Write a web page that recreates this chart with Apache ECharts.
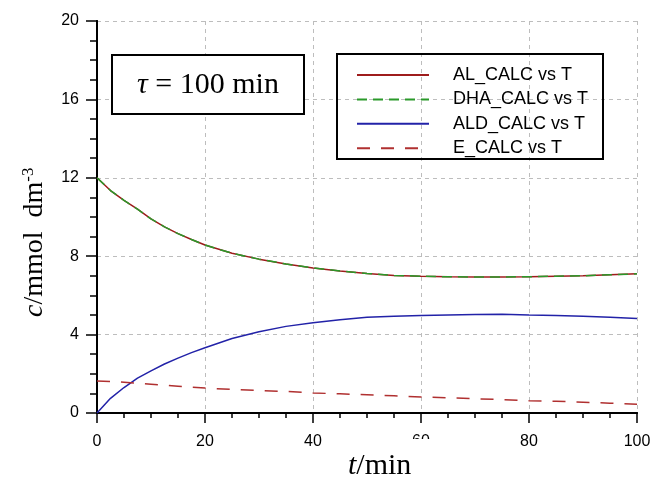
<!DOCTYPE html>
<html>
<head>
<meta charset="utf-8">
<script src="https://cdn.jsdelivr.net/npm/echarts@6/dist/echarts.min.js"></script>
<style>
  html, body { margin: 0; padding: 0; background: #fff; }
  #chart { width: 655px; height: 481px; }
</style>
</head>
<body>
<div id="chart"></div>
<script>
// time points (min)
var times = [0, 2.5, 5, 7.5, 10, 12.5, 15, 17.5, 20, 25, 30, 35, 40, 45, 50, 55, 60, 65, 70, 75, 80, 85, 90, 95, 100];
// concentrations (mmol dm-3)
var alCalc  = [12.0, 11.35, 10.85, 10.4, 9.9, 9.5, 9.15, 8.85, 8.57, 8.15, 7.85, 7.6, 7.4, 7.25, 7.12, 7.02, 6.98, 6.95, 6.94, 6.94, 6.95, 6.98, 7.0, 7.05, 7.1];
var dhaCalc = [12.0, 11.35, 10.85, 10.4, 9.9, 9.5, 9.15, 8.85, 8.57, 8.15, 7.85, 7.6, 7.4, 7.25, 7.12, 7.02, 6.98, 6.95, 6.94, 6.94, 6.95, 6.98, 7.0, 7.05, 7.1];
var aldCalc = [0, 0.75, 1.3, 1.78, 2.15, 2.5, 2.8, 3.08, 3.33, 3.8, 4.15, 4.42, 4.61, 4.76, 4.88, 4.93, 4.98, 5.0, 5.02, 5.04, 5.0, 4.98, 4.93, 4.88, 4.82];
var eCalc   = [1.63, 1.6, 1.57, 1.52, 1.47, 1.42, 1.37, 1.32, 1.27, 1.2, 1.15, 1.1, 1.02, 0.98, 0.93, 0.88, 0.82, 0.78, 0.73, 0.68, 0.63, 0.6, 0.55, 0.5, 0.45];
var seriesNames = ['AL_CALC vs T', 'DHA_CALC vs T', 'ALD_CALC vs T', 'E_CALC vs T'];

function pairs(ys) {
    return times.map(function (t, i) { return [t, ys[i]]; });
}

var gridCol = '#bdbdbd';
var serif = '"Liberation Serif", "Times New Roman", serif';
var sans = '"Liberation Sans", Arial, sans-serif';

function mkLine(name, ys, color, type) {
    return {
        name: name,
        type: 'line',
        data: pairs(ys),
        symbol: 'none',
        showSymbol: false,
        animation: false,
        lineStyle: { color: color, width: 1.5, type: type },
        itemStyle: { color: color }
    };
}

var myChart = echarts.init(document.getElementById('chart'));
var option = {
    backgroundColor: '#fff',
    animation: false,
    grid: { left: 97, right: 18, top: 21, bottom: 68 },
    legend: {
        orient: 'vertical',
        left: 351,
        top: 61,
        itemWidth: 72,
        itemHeight: 18,
        itemGap: 6.4,
        selectedMode: false,
        // hide the round marker, keep only the line sample
        itemStyle: { opacity: 0 },
        textStyle: { fontFamily: sans, fontSize: 18, color: '#000', padding: [0, 0, 0, 19] },
        data: seriesNames
    },
    xAxis: [
        {
            type: 'value', position: 'bottom', min: 0, max: 100, interval: 20,
            axisLine: { lineStyle: { color: '#000', width: 2 } },
            axisTick: { length: 10, lineStyle: { color: '#000', width: 1.5 } },
            minorTick: { show: true, splitNumber: 4, length: 5, lineStyle: { color: '#000', width: 1.5 } },
            axisLabel: { margin: 21, fontFamily: sans, fontSize: 16, color: '#000' },
            splitLine: { show: true, lineStyle: { color: gridCol, width: 1, type: [4, 4] } }
        },
        {
            type: 'value', position: 'top', min: 0, max: 100, interval: 20,
            axisLine: { lineStyle: { color: '#000', width: 2 } },
            axisTick: { inside: true, length: 5, lineStyle: { color: '#000', width: 1.5 } },
            minorTick: { show: true, splitNumber: 4, length: 5, lineStyle: { color: '#000', width: 1.5 } },
            axisLabel: { show: false },
            splitLine: { show: false }
        }
    ],
    yAxis: [
        {
            type: 'value', position: 'left', min: 0, max: 20, interval: 4,
            axisLine: { lineStyle: { color: '#000', width: 2 } },
            axisTick: { length: 11, lineStyle: { color: '#000', width: 1.5 } },
            minorTick: { show: true, splitNumber: 4, length: 4, lineStyle: { color: '#000', width: 1.5 } },
            axisLabel: { margin: 18, fontFamily: sans, fontSize: 16, color: '#000' },
            splitLine: { show: true, lineStyle: { color: gridCol, width: 1, type: [4, 4] } }
        },
        {
            type: 'value', position: 'right', min: 0, max: 20, interval: 4,
            axisLine: { lineStyle: { color: '#000', width: 2 } },
            axisTick: { inside: true, length: 7, lineStyle: { color: '#000', width: 1.5 } },
            minorTick: { show: true, splitNumber: 4, length: 7, lineStyle: { color: '#000', width: 1.5 } },
            axisLabel: { show: false },
            splitLine: { show: false }
        }
    ],
    series: [
        mkLine(seriesNames[0], alCalc, '#9e1c1c', 'solid'),
        mkLine(seriesNames[1], dhaCalc, '#2a9a2a', [10, 6]),
        mkLine(seriesNames[2], aldCalc, '#2222a8', 'solid'),
        mkLine(seriesNames[3], eCalc, '#b03030', [13, 11])
    ],
    graphic: [
        // tau box
        {
            type: 'rect', z: 100,
            shape: { x: 112, y: 55, width: 192, height: 59 },
            style: { fill: '#fff', stroke: '#000', lineWidth: 2 }
        },
        {
            type: 'text', z: 101, x: 208, y: 85,
            style: {
                text: '{i|τ} = 100 min',
                font: '30px ' + serif,
                fill: '#000',
                align: 'center',
                verticalAlign: 'middle',
                rich: { i: { fontStyle: 'italic', fontFamily: serif, fontSize: 30 } }
            }
        },
        // legend frame
        {
            type: 'rect', z: 100,
            shape: { x: 337, y: 54, width: 266, height: 105 },
            style: { fill: 'none', stroke: '#000', lineWidth: 2 }
        },
        // x axis title (white background clips the "60" label as in the original)
        {
            type: 'rect', z: 100,
            shape: { x: 323, y: 439, width: 124, height: 42 },
            style: { fill: '#fff' }
        },
        {
            type: 'text', z: 101, x: 348, y: 466,
            style: {
                text: '{i|t}/min',
                font: '30px ' + serif,
                fill: '#000',
                align: 'left',
                verticalAlign: 'middle',
                rich: { i: { fontStyle: 'italic', fontFamily: serif, fontSize: 30 } }
            }
        },
        // y axis title
        {
            type: 'text', z: 101, x: 35, y: 317, rotation: Math.PI / 2,
            style: {
                text: '{i|c}/mmol  dm{sup|-3}',
                font: '28px ' + serif,
                fill: '#000',
                align: 'left',
                verticalAlign: 'middle',
                rich: {
                    i: { fontStyle: 'italic', fontFamily: serif, fontSize: 28, lineHeight: 30 },
                    sup: { fontFamily: serif, fontSize: 17, verticalAlign: 'top', lineHeight: 30 }
                }
            }
        }
    ]
};
myChart.setOption(option);
</script>
</body>
</html>
